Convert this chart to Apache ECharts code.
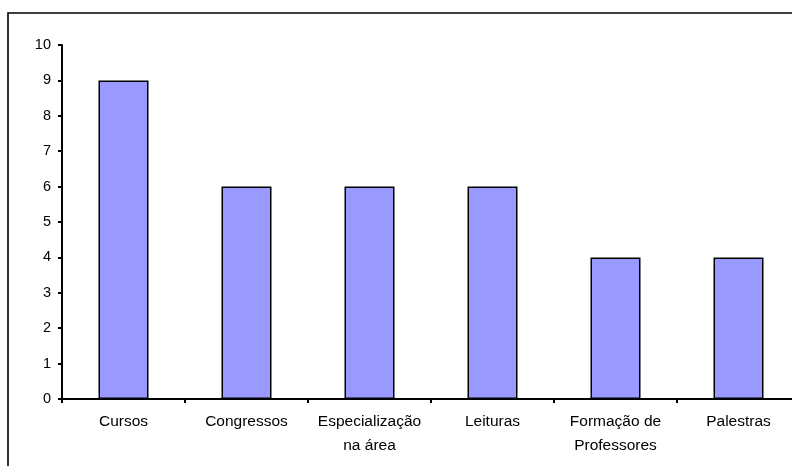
<!DOCTYPE html>
<html>
<head>
<meta charset="utf-8">
<script src="https://cdn.jsdelivr.net/npm/echarts@6/dist/echarts.min.js"></script>
<style>
  html, body { margin: 0; padding: 0; background: #fff; }
  #chart { width: 792px; height: 466px; }
</style>
</head>
<body>
<div id="chart"></div>
<script>
// Activities and how many respondents cited each one
const categories = ['Cursos', 'Congressos', 'Especialização\nna área', 'Leituras', 'Formação de\nProfessores', 'Palestras'];
const counts = [9, 6, 6, 6, 4, 4];
const yTicks = { min: 0, max: 10, interval: 1 };

const FONT = '"Liberation Sans", Arial, sans-serif';

const chart = echarts.init(document.getElementById('chart'), null, { renderer: 'canvas' });
chart.setOption({
  animation: false,
  backgroundColor: '#ffffff',
  graphic: [{
    type: 'rect',
    shape: { x: 8, y: 13, width: 820, height: 480 },
    style: { fill: 'none', stroke: '#000', lineWidth: 1.6 },
    silent: true
  }],
  // plot area runs past the right edge of the canvas
  grid: {
    left: 62, top: 45, width: 738, height: 354,
    containLabel: false,
    outerBoundsMode: 'none'
  },
  xAxis: {
    type: 'category',
    data: categories,
    axisLine: { lineStyle: { color: '#000', width: 2 } },
    axisTick: { show: true, length: 4, lineStyle: { color: '#000', width: 2 } },
    axisLabel: {
      interval: 0,
      margin: 11,
      color: '#000',
      fontFamily: FONT,
      fontSize: 15.5,
      lineHeight: 24,
      align: 'center'
    },
    splitLine: { show: false }
  },
  yAxis: {
    type: 'value',
    min: yTicks.min,
    max: yTicks.max,
    interval: yTicks.interval,
    axisLine: { show: true, lineStyle: { color: '#000', width: 2 } },
    axisTick: { show: true, length: 4, lineStyle: { color: '#000', width: 2 } },
    axisLabel: { margin: 11, color: '#000', fontFamily: FONT, fontSize: 14.5 },
    splitLine: { show: false }
  },
  series: [{
    type: 'bar',
    data: counts,
    barWidth: 50,
    itemStyle: { color: '#9999FF', borderColor: '#000', borderWidth: 1.5 }
  }]
});
</script>
</body>
</html>
